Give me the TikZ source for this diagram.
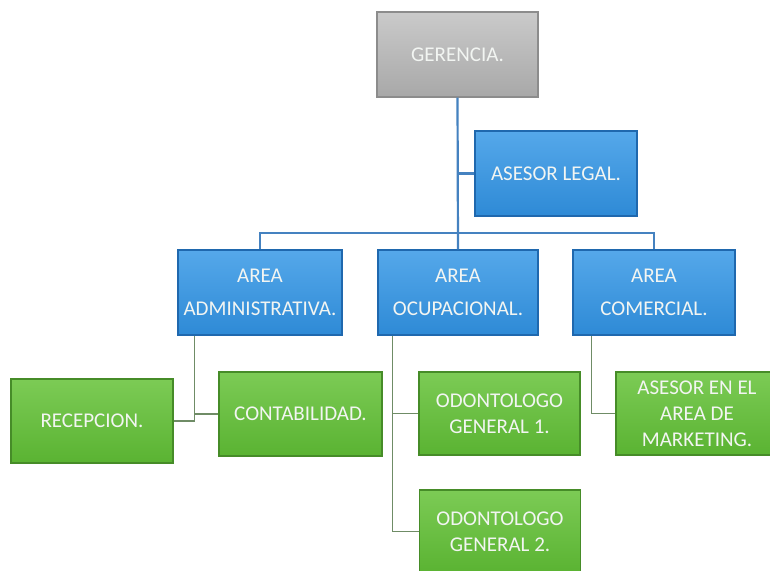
\documentclass[tikz,border=0pt]{standalone}
\usepackage{fontspec}
\setmainfont{Carlito}
\definecolor{grayfill}{HTML}{A8A8A8}
\definecolor{graytop}{HTML}{CACACA}
\definecolor{grayline}{HTML}{8C8C8C}
\definecolor{bluefill}{HTML}{2E8AD6}
\definecolor{bluetop}{HTML}{55A8EA}
\definecolor{blueline}{HTML}{1F68AE}
\definecolor{greenfill}{HTML}{5AB332}
\definecolor{greentop}{HTML}{7CCB55}
\definecolor{greenline}{HTML}{468C28}
\definecolor{trunkcol}{HTML}{4582C0}
\definecolor{linkcol}{HTML}{6F8C66}
\definecolor{txt}{HTML}{F2F5F2}
\tikzset{
  box/.style={rectangle, line width=1.2pt, align=center, text=txt,
    font=\fontsize{21}{33}\selectfont, inner sep=1pt},
  graybox/.style={box, draw=grayline, top color=graytop, bottom color=grayfill,
    minimum width=161pt, minimum height=85pt},
  bluebox/.style={box, draw=blueline, top color=bluetop, bottom color=bluefill,
    minimum width=162pt, minimum height=85pt},
  greenbox/.style={box, draw=greenline, top color=greentop, bottom color=greenfill,
    minimum width=162pt, minimum height=84pt, font=\fontsize{21}{26}\selectfont},
  trunk/.style={draw=trunkcol, line width=2.2pt},
  lnk/.style={draw=linkcol, line width=1.6pt},
}
\begin{document}
\begin{tikzpicture}[x=1pt,y=-1pt]
\useasboundingbox (0,0) rectangle (770,570);
\fill[white] (0,0) rectangle (770,570);
% nodes
\node[graybox] (ger) at (457.5,54.5) {GERENCIA.};
\node[bluebox] (ases) at (556,173.5) {ASESOR LEGAL.};
\node[bluebox, minimum width=164pt] (adm) at (260,292.5) {AREA\\ADMINISTRATIVA.};
\node[bluebox, minimum width=160pt] (ocu) at (458,292.5) {AREA\\OCUPACIONAL.};
\node[bluebox] (com) at (654,292.5) {AREA\\COMERCIAL.};
\node[greenbox] (rec) at (92,421) {RECEPCION.};
\node[greenbox, minimum width=163pt] (con) at (300.5,414) {CONTABILIDAD.};
\node[greenbox, minimum width=161pt, minimum height=83pt] (od1) at (499.5,413.5) {ODONTOLOGO\\GENERAL 1.};
\node[greenbox, minimum height=83pt] (mkt) at (697,413.5) {ASESOR EN EL\\AREA DE\\MARKETING.};
\node[greenbox, minimum width=161pt, minimum height=83pt] (od2) at (500,531.5) {ODONTOLOGO\\GENERAL 2.};
% junction coordinates
\coordinate (bar) at (0,233);
\coordinate (ja) at ([xshift=17pt]adm.south west);
\coordinate (jo) at ([xshift=15pt]ocu.south west);
\coordinate (jc) at ([xshift=19pt]com.south west);
% trunk connectors
\draw[trunk] (ger.south) -- (ocu.north);
\draw[trunk] (adm.north) |- (com.north |- bar) -- (com.north);
\draw[trunk] (ger.south |- ases.west) -- (ases.west);
% lower connectors
\draw[lnk] (ja) |- (con.west);
\draw[lnk] (rec.east) -| (ja |- con.west);
\draw[lnk] (jo) |- (od1.west);
\draw[lnk] (jo) |- (od2.west);
\draw[lnk] (jc) |- (mkt.west);
\end{tikzpicture}
\end{document}
